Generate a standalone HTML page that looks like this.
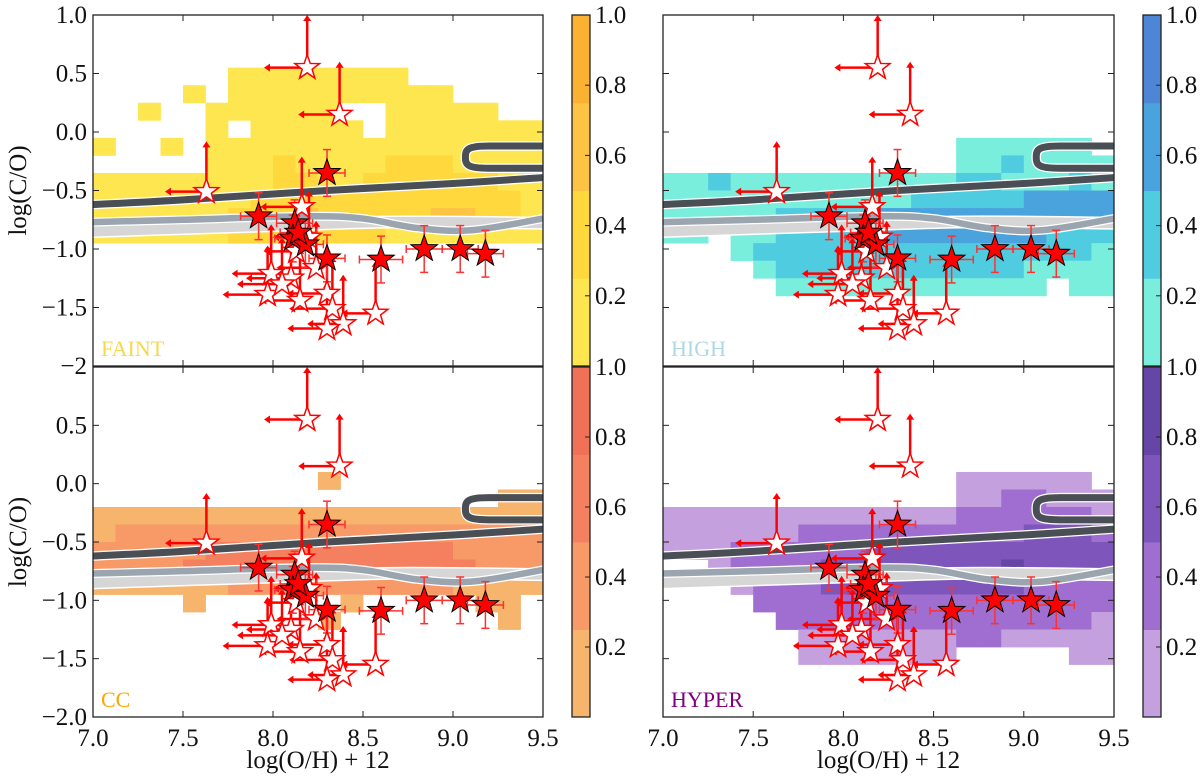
<!DOCTYPE html>
<html><head><meta charset="utf-8"><style>
html,body{margin:0;padding:0;background:#fff;}
svg{display:block;}
svg text{font-family:"Liberation Serif","Times New Roman",serif;}
</style></head><body>
<svg id="chart" width="1200" height="782" viewBox="0 0 1200 782" xmlns="http://www.w3.org/2000/svg" font-family="Liberation Serif, serif"></svg>
<script>
// ---------- data ----------
const xTicks = [7.0, 7.5, 8.0, 8.5, 9.0, 9.5];
const xTickLabels = ["7.0","7.5","8.0","8.5","9.0","9.5"];
const yTicks = [1.0, 0.5, 0.0, -0.5, -1.0, -1.5, -2.0];
const yTickLabelsTop = ["1.0","0.5","0.0","\u22120.5","\u22121.0","\u22121.5","\u22122"];
const yTickLabelsBottom = ["","0.5","0.0","\u22120.5","\u22121.0","\u22121.5","\u22122.0"];
const cbTicks = [0.2, 0.4, 0.6, 0.8];
const cbTickLabels = ["0.2","0.4","0.6","0.8"];

const filledX = [8.30, 7.92, 8.12, 8.11, 8.18, 8.30, 8.60, 8.84, 9.04, 9.18, 8.14];
const filledY = [-0.35, -0.72, -0.78, -0.91, -0.96, -1.08, -1.09, -1.00, -1.00, -1.04, -0.86];
const filledXErr = [0.10, 0.10, 0.10, 0.10, 0.10, 0.10, 0.12, 0.10, 0.10, 0.10, 0.10];
const filledYErr = [0.20, 0.20, 0.20, 0.20, 0.20, 0.20, 0.20, 0.20, 0.20, 0.20, 0.20];

const openX = [8.19, 8.37, 7.63, 8.16, 7.99, 8.10, 8.24, 7.97, 8.15, 8.30, 8.33, 8.57, 8.39, 8.30, 8.13, 8.20, 8.05];
const openY = [0.55, 0.15, -0.51, -0.64, -1.21, -1.25, -1.16, -1.39, -1.44, -1.38, -1.51, -1.55, -1.64, -1.68, -1.02, -0.90, -1.30];
const openUp = [0.45, 0.45, 0.43, 0.43, 0.42, 0.45, 0.40, 0.42, 0.45, 0.40, 0.45, 0.45, 0.42, 0.40, 0.35, 0.40, 0.40];
const openLeft = [0.24, 0.23, 0.23, 0.23, 0.22, 0.25, 0.22, 0.25, 0.22, 0.22, 0.24, 0.19, 0.20, 0.22, 0.18, 0.20, 0.25];

const darkX = [7.0, 7.5, 8.3, 9.0, 9.5];
const darkY = [-0.62, -0.58, -0.50, -0.44, -0.39];
const grayX = [7.0, 7.5, 8.2, 8.5, 8.8, 9.1, 9.5];
const grayY = [-0.77, -0.75, -0.72, -0.74, -0.82, -0.84, -0.74];
const bandX = [7.0, 8.0, 8.6, 9.0, 9.5];
const bandY = [-0.85, -0.80, -0.77, -0.77, -0.78];

// heat grids: rows from y=0.55 downward in 0.15 steps, 20 columns of 0.125 from 7.0
const faintGrid = [
"00000011111111000000",
"00001011111111110000",
"00100111111001111100",
"00000101111101111111",
"10010111111111111111",
"00000111211112221111",
"11111111221122222211",
"11111112222222222221",
"11111122232222233221",
"11111122222221111111"];
const highGrid = [
"00000000000000000000",
"00000000000000000000",
"00000000000000000000",
"00000000000000000000",
"00000000000001111110",
"00000000000001121111",
"11211111111112211121",
"11111111111222223333",
"11111222233333333333",
"11011222233333333222",
"00012222222222222221",
"00001222222222221111",
"00000111111111111011"];
const ccGrid = [
"00000000000000000000",
"00000000000000000000",
"00000000000000000000",
"00000000001000000000",
"00000000000000000011",
"11111111111111111111",
"12222222222222222222",
"22222333333333332222",
"22223333333333333222",
"11111122222222221111",
"00001000000100000110",
"00000000001000000010"];
const hyperGrid = [
"00000000000000000000",
"00000000000000000000",
"00000000000000000000",
"00000000000001111110",
"00000000000001122111",
"11111111111112222221",
"11111122222222223332",
"11122222233333333333",
"00122223333333343333",
"00012223333333332222",
"00002222222222222222",
"00000222222222222221",
"00000011111112211111",
"00000011111110000011"];

const yellowCols = ["#fee650","#fed83c","#fcc344","#fbb233"];
const orangeCols = ["#f6b46c","#f89a68","#f58060","#f07058"];
const cyanCols = ["#7aeedc","#50cce0","#4aa3dc","#4e86d6"];
const purpleCols = ["#c4a0de","#a06ed0","#7e55bb","#6545a5"];

// ---------- drawing ----------
const NS = "http://www.w3.org/2000/svg";
const svg = document.getElementById("chart");
function mk(tag, attrs, parent){
  const e = document.createElementNS(NS, tag);
  for (const k in attrs) e.setAttribute(k, attrs[k]);
  (parent||svg).appendChild(e);
  return e;
}
function smoothPath(pts){
  let d = "M" + pts[0][0] + "," + pts[0][1];
  for (let i=0;i<pts.length-1;i++){
    const p0 = pts[i-1]||pts[i], p1=pts[i], p2=pts[i+1], p3=pts[i+2]||pts[i+1];
    const c1x = p1[0]+(p2[0]-p0[0])/6, c1y = p1[1]+(p2[1]-p0[1])/6;
    const c2x = p2[0]-(p3[0]-p1[0])/6, c2y = p2[1]-(p3[1]-p1[1])/6;
    d += " C"+c1x+","+c1y+" "+c2x+","+c2y+" "+p2[0]+","+p2[1];
  }
  return d;
}
function starPath(cx, cy, R){
  const r = R*0.4; let d="";
  for (let i=0;i<10;i++){
    const a = -Math.PI/2 + i*Math.PI/5;
    const rr = i%2===0?R:r;
    d += (i===0?"M":"L") + (cx+rr*Math.cos(a)).toFixed(2) + "," + (cy+rr*Math.sin(a)).toFixed(2);
  }
  return d+"Z";
}

const panels = [
 {name:"faint", x0:93, x1:543, y0:15, y1:366, grid:faintGrid, cols:yellowCols, label:"FAINT", lc:"#f7d84a", yl:yTickLabelsTop, xlab:false, ylab:true, cbx:572, cbTop:"1.0"},
 {name:"cc", x0:93, x1:543, y0:367, y1:717, grid:ccGrid, cols:orangeCols, label:"CC", lc:"#ffa500", yl:yTickLabelsBottom, xlab:true, ylab:true, cbx:572, cbTop:"1.0"},
 {name:"high", x0:663, x1:1114, y0:15, y1:366, grid:highGrid, cols:cyanCols, label:"HIGH", lc:"#add8e6", yl:null, xlab:false, ylab:false, cbx:1143, cbTop:"1.0"},
 {name:"hyper", x0:663, x1:1114, y0:367, y1:717, grid:hyperGrid, cols:purpleCols, label:"HYPER", lc:"#800080", yl:null, xlab:true, ylab:false, cbx:1143, cbTop:"1.0"}
];

const defs = mk("defs", {});
panels.forEach((P, pi) => {
  const sx = v => P.x0 + (v-7)*(P.x1-P.x0)/2.5;
  const sy = v => P.y0 + (1-v)*(P.y1-P.y0)/3;
  const clip = mk("clipPath", {id:"clip"+pi}, defs);
  mk("rect", {x:P.x0, y:P.y0, width:P.x1-P.x0, height:P.y1-P.y0}, clip);

  const g = mk("g", {"clip-path":"url(#clip"+pi+")"});
  
  

  // heatmap
  const hg = mk("g", {}, g);
  
  
  P.grid.forEach((row, r) => {
    for (let c=0;c<row.length;c++){
      const lv = +row[c];
      if (!lv) continue;
      const xa = sx(7+0.125*c), xb = sx(7+0.125*(c+1));
      const ya = sy(0.55-0.15*r), yb = sy(0.55-0.15*(r+1));
      const cell = mk("rect", {x:xa.toFixed(2), y:ya.toFixed(2), width:(xb-xa+0.4).toFixed(2), height:(yb-ya+0.4).toFixed(2), fill:P.cols[lv-1]}, hg);
      
      
    }
  });

  // model lines
  const bandPts = bandX.map((v,i)=>[sx(v), sy(bandY[i])]);
  const grayPts = grayX.map((v,i)=>[sx(v), sy(grayY[i])]);
  const darkPts = darkX.map((v,i)=>[sx(v), sy(darkY[i])]);
  const bp = smoothPath(bandPts), gp = smoothPath(grayPts), dp = smoothPath(darkPts);
  mk("path", {d:bp, fill:"none", stroke:"#ffffff", "stroke-width":13}, g);
  const band = mk("path", {d:bp, fill:"none", stroke:"#d6d6d6", "stroke-width":10}, g);
  
  
  mk("path", {d:gp, fill:"none", stroke:"#ffffff", "stroke-width":9}, g);
  const gl = mk("path", {d:gp, fill:"none", stroke:"#9aa5af", "stroke-width":6.5}, g);
  
  
  const yT = sy(-0.12), yB = sy(-0.31), xl = sx(9.08), xm = sx(9.2), xr = sx(9.6);
  const rr = (yB-yT)/2;
  const loopD = "M"+xr+","+yT+" L"+xm+","+yT+" C"+(xl)+","+yT+" "+(xl-2)+","+(yT+rr*0.3)+" "+(xl-2)+","+(yT+rr)+" C"+(xl-2)+","+(yB-rr*0.3)+" "+xl+","+yB+" "+xm+","+yB+" L"+xr+","+yB;
  mk("path", {d:dp, fill:"none", stroke:"#ffffff", "stroke-width":9.5}, g);
  mk("path", {d:loopD, fill:"none", stroke:"#ffffff", "stroke-width":9.5}, g);
  const dl = mk("path", {d:dp, fill:"none", stroke:"#4a4f55", "stroke-width":7}, g);
  
  
  const lp = mk("path", {d:loopD, fill:"none", stroke:"#4a4f55", "stroke-width":7}, g);
  
  

  // upper-limit arrows
  for (let i=0;i<openX.length;i++){
    const cx = sx(openX[i]), cy = sy(openY[i]);
    const ty = sy(openY[i]+openUp[i]), lx = sx(openX[i]-openLeft[i]);
    const ag = mk("g", {stroke:"#ff0000", fill:"#ff0000"}, g);
    
    
    mk("line", {x1:cx, y1:cy, x2:cx, y2:ty+5, "stroke-width":2.5}, ag);
    mk("path", {d:"M"+(cx-4)+","+(ty+6)+" L"+cx+","+ty+" L"+(cx+4)+","+(ty+6)+"Z", stroke:"none"}, ag);
    mk("line", {x1:cx, y1:cy, x2:lx+5, y2:cy, "stroke-width":2.5}, ag);
    mk("path", {d:"M"+(lx+6)+","+(cy-4)+" L"+lx+","+cy+" L"+(lx+6)+","+(cy+4)+"Z", stroke:"none"}, ag);
  }
  // error bars
  for (let i=0;i<filledX.length;i++){
    const cx = sx(filledX[i]), cy = sy(filledY[i]);
    const xa = sx(filledX[i]-filledXErr[i]), xb = sx(filledX[i]+filledXErr[i]);
    const ya = sy(filledY[i]+filledYErr[i]), yb = sy(filledY[i]-filledYErr[i]);
    const eg = mk("g", {stroke:"#ff3030", "stroke-width":1.5}, g);
    
    
    mk("line", {x1:xa, y1:cy, x2:xb, y2:cy}, eg);
    mk("line", {x1:cx, y1:ya, x2:cx, y2:yb}, eg);
    mk("line", {x1:xa, y1:cy-4, x2:xa, y2:cy+4}, eg);
    mk("line", {x1:xb, y1:cy-4, x2:xb, y2:cy+4}, eg);
    mk("line", {x1:cx-4, y1:ya, x2:cx+4, y2:ya}, eg);
    mk("line", {x1:cx-4, y1:yb, x2:cx+4, y2:yb}, eg);
  }
  // open stars
  for (let i=0;i<openX.length;i++){
    const s = mk("path", {d:starPath(sx(openX[i]), sy(openY[i]), 13), fill:"#ffffff", stroke:"#ff0000", "stroke-width":1.5}, g);
    
    
  }
  // filled stars
  for (let i=0;i<filledX.length;i++){
    const s = mk("path", {d:starPath(sx(filledX[i]), sy(filledY[i]), 14), fill:"#ff0000", stroke:"#000000", "stroke-width":1}, g);
    
    
  }

  // panel label
  const lab = mk("text", {x:P.x0+8, y:P.y1-10, "font-size":22, fill:P.lc});
  lab.textContent = P.label;
  
  

  // frame and ticks
  const fr = mk("rect", {x:P.x0, y:P.y0, width:P.x1-P.x0, height:P.y1-P.y0, fill:"none", stroke:"#222", "stroke-width":1.3});
  
  
  xTicks.forEach((v,i)=>{
    const x = sx(v);
    mk("line", {x1:x, y1:P.y1, x2:x, y2:P.y1-6, stroke:"#222", "stroke-width":1});
    mk("line", {x1:x, y1:P.y0, x2:x, y2:P.y0+6, stroke:"#222", "stroke-width":1});
    if (P.xlab){
      const t = mk("text", {x:x, y:P.y1+29, "font-size":25, "text-anchor":"middle", fill:"#111"});
      t.textContent = xTickLabels[i];
      
      
    }
  });
  yTicks.forEach((v,i)=>{
    const y = sy(v);
    mk("line", {x1:P.x0, y1:y, x2:P.x0+6, y2:y, stroke:"#222", "stroke-width":1});
    mk("line", {x1:P.x1, y1:y, x2:P.x1-6, y2:y, stroke:"#222", "stroke-width":1});
    if (P.yl && P.yl[i]){
      const t = mk("text", {x:P.x0-6, y:y+8, "font-size":25, "text-anchor":"end", fill:"#111"});
      t.textContent = P.yl[i];
      
      
    }
  });
  if (P.ylab){
    const yt = mk("text", {x:0, y:0, "font-size":25, "text-anchor":"middle", fill:"#111", transform:"translate(26,"+((P.y0+P.y1)/2)+") rotate(-90)"});
    yt.textContent = "log(C/O)";
    
    
  }
  if (P.xlab){
    const xt = mk("text", {x:(P.x0+P.x1)/2, y:768, "font-size":25, "text-anchor":"middle", fill:"#111"});
    xt.textContent = "log(O/H) + 12";
    
    
  }

  // colorbar
  const cbw = 18, cbh = P.y1-P.y0;
  const cg = mk("g", {});
  
  
  for (let k=0;k<4;k++){
    mk("rect", {x:P.cbx, y:P.y0 + cbh*(1-(k+1)/4), width:cbw, height:cbh/4+0.5, fill:P.cols[k]}, cg);
  }
  mk("rect", {x:P.cbx, y:P.y0, width:cbw, height:cbh, fill:"none", stroke:"#222", "stroke-width":1.3}, cg);
  cbTicks.forEach((v,i)=>{
    const y = P.y0 + cbh*(1-v);
    mk("line", {x1:P.cbx+cbw-5, y1:y, x2:P.cbx+cbw, y2:y, stroke:"#222", "stroke-width":1}, cg);
    const t = mk("text", {x:P.cbx+cbw+5, y:y+8, "font-size":25, fill:"#111"}, cg);
    t.textContent = cbTickLabels[i];
    
    
  });
  const tt = mk("text", {x:P.cbx+cbw+5, y:P.y0+8, "font-size":25, fill:"#111"}, cg);
  tt.textContent = P.cbTop;
  
  
});
</script>
</body></html>
